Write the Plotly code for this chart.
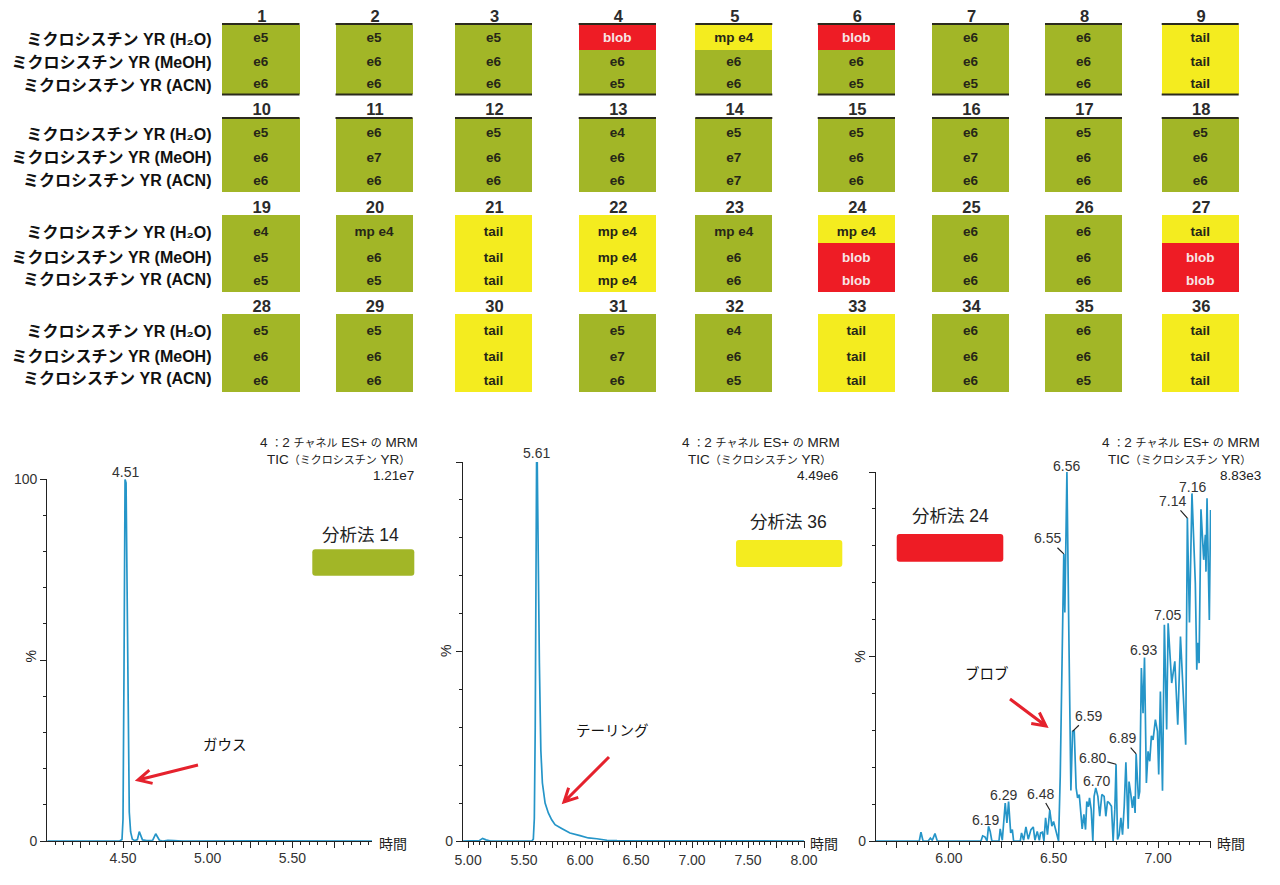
import numpy as np
import plotly.graph_objects as go

W, H = 1280, 885
PAGE_GAP = 8  # the browser keeps this margin around the figure
FONT = "Liberation Sans, Noto Sans CJK JP, sans-serif"
OLIVE, YELLOW, RED = "#A2B627", "#F4EC1F", "#EE1C25"
LINE = "#2595C8"
INK = "#2b2b2b"
BLANK = "\u00a0"

# --- table data ---
row_names = ["ミクロシスチン YR (H₂O)", "ミクロシスチン YR (MeOH)", "ミクロシスチン YR (ACN)"]
method_numbers = [[1, 2, 3, 4, 5, 6, 7, 8, 9],
                  [10, 11, 12, 13, 14, 15, 16, 17, 18],
                  [19, 20, 21, 22, 23, 24, 25, 26, 27],
                  [28, 29, 30, 31, 32, 33, 34, 35, 36]]
cell_labels = [
    ["e5", "e5", "e5", "blob", "mp e4", "blob", "e6", "e6", "tail"],
    ["e6", "e6", "e6", "e6", "e6", "e6", "e6", "e6", "tail"],
    ["e6", "e6", "e6", "e5", "e6", "e5", "e5", "e6", "tail"],
    ["e5", "e6", "e5", "e4", "e5", "e5", "e6", "e5", "e5"],
    ["e6", "e7", "e6", "e6", "e7", "e6", "e7", "e6", "e6"],
    ["e6", "e6", "e6", "e6", "e7", "e6", "e6", "e6", "e6"],
    ["e4", "mp e4", "tail", "mp e4", "mp e4", "mp e4", "e6", "e6", "tail"],
    ["e5", "e6", "tail", "mp e4", "e6", "blob", "e6", "e6", "blob"],
    ["e5", "e5", "tail", "mp e4", "e6", "blob", "e6", "e6", "blob"],
    ["e5", "e5", "tail", "e5", "e4", "tail", "e6", "e6", "tail"],
    ["e6", "e6", "tail", "e7", "e6", "tail", "e6", "e6", "tail"],
    ["e6", "e6", "tail", "e6", "e5", "tail", "e6", "e5", "tail"],
]
# 0 gauss, 1 tail, 2 blob
cell_class = [
    [0, 0, 0, 2, 1, 2, 0, 0, 1],
    [0, 0, 0, 0, 0, 0, 0, 0, 1],
    [0, 0, 0, 0, 0, 0, 0, 0, 1],
    [0, 0, 0, 0, 0, 0, 0, 0, 0],
    [0, 0, 0, 0, 0, 0, 0, 0, 0],
    [0, 0, 0, 0, 0, 0, 0, 0, 0],
    [0, 0, 1, 1, 0, 1, 0, 0, 1],
    [0, 0, 1, 1, 0, 2, 0, 0, 2],
    [0, 0, 1, 1, 0, 2, 0, 0, 2],
    [0, 0, 1, 0, 0, 1, 0, 0, 1],
    [0, 0, 1, 0, 0, 1, 0, 0, 1],
    [0, 0, 1, 0, 0, 1, 0, 0, 1],
]

# --- chromatograms ---
gauss_x = [4.053, 4.480, 4.494, 4.500, 4.506, 4.512, 4.518, 4.524, 4.530, 4.537, 4.545, 4.555, 4.570, 4.585,
           4.596, 4.604, 4.615, 4.640, 4.675, 4.693, 4.702, 4.715, 4.735, 4.765, 4.800, 4.850, 5.300, 5.970]
gauss_y = [0, 0, 0.4, 6, 48, 100, 99, 62, 24, 8, 2.5, 0.5, 0.1, 0.4,
           2.6, 1.8, 0.3, 0.1, 0.2, 2.0, 1.4, 0.2, 0, 0.15, 0.1, 0, 0.05, 0]

tail_x = [4.955, 5.100, 5.130, 5.160, 5.200, 5.570, 5.583, 5.592, 5.600, 5.606, 5.612, 5.618, 5.626, 5.637,
          5.650, 5.664, 5.688, 5.717, 5.747, 5.777, 5.836, 5.910, 6.000, 6.074, 6.150, 6.240, 6.330, 6.700, 8.000]
tail_y = [0, 0.1, 0.7, 0.3, 0, 0, 0.5, 6, 30, 78, 100, 100, 76, 47,
          24, 15.3, 10, 7.4, 5.6, 4.3, 3.3, 2.1, 1.4, 0.8, 0.6, 0.2, 0.1, 0.05, 0]

blob_x = [5.651, 5.858, 5.866, 5.876, 5.901, 5.911, 5.920, 5.933, 5.944, 6.153, 6.161, 6.172, 6.182, 6.189,
          6.197, 6.205, 6.239, 6.245, 6.255, 6.269, 6.277, 6.285, 6.295, 6.303, 6.309, 6.341, 6.347, 6.357,
          6.368, 6.379, 6.392, 6.403, 6.411, 6.422, 6.432, 6.438, 6.447, 6.454, 6.462, 6.471, 6.482, 6.492,
          6.500, 6.511, 6.524, 6.532, 6.541, 6.549, 6.554, 6.564, 6.573, 6.583, 6.591, 6.599, 6.608, 6.615,
          6.623, 6.631, 6.637, 6.645, 6.653, 6.659, 6.667, 6.672, 6.680, 6.688, 6.694, 6.702, 6.712, 6.721,
          6.731, 6.742, 6.750, 6.758, 6.767, 6.777, 6.785, 6.793, 6.799, 6.806, 6.814, 6.822, 6.830, 6.838,
          6.846, 6.857, 6.861, 6.869, 6.877, 6.884, 6.890, 6.895, 6.906, 6.912, 6.920, 6.928, 6.935, 6.944,
          6.952, 6.960, 6.968, 6.976, 6.987, 6.997, 7.003, 7.011, 7.021, 7.030, 7.041, 7.048, 7.056, 7.065,
          7.080, 7.094, 7.107, 7.119, 7.132, 7.140, 7.150, 7.162, 7.178, 7.185, 7.189, 7.196, 7.205, 7.218,
          7.226, 7.229, 7.234, 7.245, 7.251]
blob_y = [0, 0, 2.4, 0, 0, 0.8, 0.2, 2.0, 0, 0, 1.4, 1.1, 0, 4.0,
          2.6, 0, 0, 3.3, 0.2, 10.3, 4.9, 10.7, 2.2, 3.1, 0, 0, 2.2, 0.2,
          3.8, 0.5, 3.1, 3.8, 0.2, 2.6, 0.2, 2.2, 2.4, 0, 6.3, 1.7, 8.4, 4.0,
          5.3, 2.6, 0, 17.5, 48.2, 77.8, 61.9, 100, 57.2, 13.7, 29.7, 29.8, 14.4, 11.7,
          12.6, 8.1, 3.3, 7.2, 3.1, 10.7, 9.3, 11.7, 8.6, 0, 12.1, 14.4, 12.1, 6.7,
          12.6, 12.1, 6.7, 10.7, 10.3, 9.4, 0, 8.5, 20.8, 0.4, 1.7, 6.3, 1.7, 9.4,
          21.3, 3.3, 16.1, 13.0, 9.0, 12.1, 7.6, 23.6, 11.4, 13.4, 46.9, 34.6, 49.7, 15.7,
          24.3, 21.6, 28.5, 27.4, 32.9, 29.7, 18.0, 40.5, 13.6, 58.6, 30.2, 59.0, 50.0, 42.8,
          48.7, 31.5, 55.4, 42.8, 26.1, 87.5, 59.2, 94.2, 69.9, 46.4, 53.7, 48.2, 89.9, 76.2,
          83.0, 73.0, 92.9, 59.9, 89.7]

# --- page geometry (pixels) ---
col_spans = [(222, 299.5), (335.5, 412.5), (455, 532), (578.7, 656), (695.3, 772.3),
             (817.7, 895), (932, 1009), (1045, 1122), (1161.7, 1238.7)]
row_spans = [(25, 50), (50, 72), (72, 94), (118, 143), (143, 167), (167, 192),
             (215, 243), (243, 267), (267, 292), (314, 341), (341, 366), (366, 392)]
text_rows = [39, 63, 85, 134, 159, 182, 233, 259, 282, 332, 358, 382]
label_rows = [41, 64, 87, 136, 159, 182, 234, 259, 281, 333, 358, 380]
number_rows = [18, 111, 209, 308]
rule_rows = [24, 94.5, 118]

fig = go.Figure()


def paper_x(px):
    return (px - PAGE_GAP) / (W - PAGE_GAP)


def paper_y(px):
    return 1 - (px - PAGE_GAP) / (H - PAGE_GAP)


# table: one heatmap with non uniform bricks, NaN in the gaps
x_edges = [v for span in col_spans for v in span]
y_edges = []
z = []
for r, (y0, y1) in enumerate(row_spans):
    if not y_edges or y_edges[-1] != y0:
        if y_edges:
            z.append([np.nan] * (len(x_edges) - 1))
        y_edges.append(y0)
    y_edges.append(y1)
    line = []
    for c, k in enumerate(cell_class[r]):
        line.append(k)
        if c < len(cell_class[r]) - 1:
            line.append(np.nan)
    z.append(line)

fig.add_trace(go.Heatmap(
    x=x_edges, y=y_edges, z=z, zmin=0, zmax=2, showscale=False, hoverongaps=False,
    colorscale=[[0, OLIVE], [0.5, YELLOW], [1, RED]],
))

centers = [(a + b) / 2 for a, b in col_spans]
cell_x, cell_y, cell_t, cell_c = [], [], [], []
for r, row in enumerate(cell_labels):
    for c, label in enumerate(row):
        cell_x.append(centers[c])
        cell_y.append(text_rows[r])
        cell_t.append(label)
        cell_c.append("#f7e6e6" if cell_class[r][c] == 2 else "#262618")
fig.add_trace(go.Scatter(
    x=cell_x, y=cell_y, text=cell_t, mode="text", textposition="middle center",
    textfont=dict(family=FONT, size=13.5, color=cell_c, weight="bold"), hoverinfo="skip",
))

num_x, num_y, num_t = [], [], []
for g, numbers in enumerate(method_numbers):
    for c, n in enumerate(numbers):
        num_x.append(centers[c] + 1)
        num_y.append(number_rows[g])
        num_t.append(str(n))
fig.add_trace(go.Scatter(
    x=num_x, y=num_y, text=num_t, mode="text", textposition="middle center",
    textfont=dict(family=FONT, size=16.5, color=INK, weight="bold"), hoverinfo="skip",
))

fig.add_trace(go.Scatter(
    x=[211.5] * len(label_rows), y=label_rows,
    text=[row_names[i % 3] for i in range(len(label_rows))],
    mode="text", textposition="middle left",
    textfont=dict(family=FONT, size=16, color="#111111", weight="bold"), hoverinfo="skip",
))

rule_x, rule_y = [], []
for ry in rule_rows:
    for a, b in col_spans:
        rule_x += [a, b, None]
        rule_y += [ry, ry, None]
fig.add_trace(go.Scatter(x=rule_x, y=rule_y, mode="lines", line=dict(color="#2b2a1c", width=2), hoverinfo="skip"))

# chromatogram panels
panels = [
    dict(x=gauss_x, y=gauss_y, left=47.3, right=372, top=479.3, xr=[4.053, 5.97], standoff=-2,
         ticks=[4.25, 4.5, 4.75, 5.0, 5.25, 5.5, 5.75], text=[BLANK, "4.50", BLANK, "5.00", BLANK, "5.50", BLANK],
         ylabels=["0", BLANK, "100"]),
    dict(x=tail_x, y=tail_y, left=463, right=805, top=462, xr=[4.955, 8.0089], standoff=0,
         ticks=[5.0, 5.25, 5.5, 5.75, 6.0, 6.25, 6.5, 6.75, 7.0, 7.25, 7.5, 7.75, 8.0],
         text=["5.00", BLANK, "5.50", BLANK, "6.00", BLANK, "6.50", BLANK, "7.00", BLANK, "7.50", BLANK, "8.00"],
         ylabels=["0", BLANK, BLANK]),
    dict(x=blob_x, y=blob_y, left=876, right=1211, top=472, xr=[5.651, 7.253], standoff=-2,
         ticks=[5.75, 6.0, 6.25, 6.5, 6.75, 7.0, 7.25], text=[BLANK, "6.00", BLANK, "6.50", BLANK, "7.00", BLANK],
         ylabels=["0", BLANK, BLANK]),
]
BOTTOM = 841
for i, p in enumerate(panels):
    n = i + 2
    fig.add_trace(go.Scatter(x=p["x"], y=p["y"], mode="lines", xaxis=f"x{n}", yaxis=f"y{n}",
                             line=dict(color=LINE, width=1.7), cliponaxis=False))
    axis_font = dict(family=FONT, size=14, color="#333333")
    fig.update_layout({
        f"xaxis{n}": dict(
            domain=[paper_x(p["left"]), paper_x(p["right"])], range=p["xr"], anchor=f"y{n}", automargin=False,
            tickmode="array", tickvals=p["ticks"], ticktext=p["text"], ticks="outside", ticklen=6, tickwidth=1.3,
            tickcolor="#222222", showline=True, linecolor="#222222", linewidth=1.3, showgrid=False, zeroline=False,
            tickfont=axis_font, ticklabelstandoff=p["standoff"],
            minor=dict(tickmode="linear", tick0=0, dtick=0.05, ticks="outside", ticklen=3, tickwidth=1,
                       tickcolor="#222222", showgrid=False),
        ),
        f"yaxis{n}": dict(
            domain=[paper_y(BOTTOM), paper_y(p["top"])], range=[0, 100], anchor=f"x{n}", automargin=False,
            tickmode="array", tickvals=[0, 50, 100], ticktext=p["ylabels"], ticks="outside", ticklen=6, tickwidth=1.3,
            tickcolor="#222222", showline=True, linecolor="#222222", linewidth=1.3, showgrid=False, zeroline=False,
            tickfont=axis_font,
            minor=dict(tickmode="linear", tick0=0, dtick=10, ticks="outside", ticklen=3, tickwidth=1,
                       tickcolor="#222222", showgrid=False),
        ),
    })

annotations = []


def page_text(x, y, text, size=14, anchor="center", color="#222222", angle=0):
    annotations.append(dict(xref="x", yref="y", x=x, y=y, text=text, showarrow=False, xanchor=anchor, yanchor="middle",
                            textangle=angle, font=dict(family=FONT, size=size, color=color)))


def mixed(latin_cjk):
    out = ""
    for part, is_cjk in latin_cjk:
        out += f'<span style="font-size:{11 if is_cjk else 13.5}px">{part}</span>'
    return out


header_1 = mixed([("4 ", 0), ("：", 1), ("2 ", 0), ("チャネル", 1), (" ES+ ", 0), ("の", 1), (" MRM", 0)])
header_2 = mixed([("TIC", 0), ("（ミクロシスチン", 1), (" YR", 0), ("）", 1)])
headers = [
    (420, 412, 416, "1.21e7"),
    (842, 833, 840, "4.49e6"),
    (1262, 1253, 1263, "8.83e3"),
]
for r1, r2, r3, scale in headers:
    page_text(r1, 442, header_1, anchor="right")
    page_text(r2, 459, header_2, anchor="right")
    page_text(r3, 475, scale, size=13.5, anchor="right")

for x, y in [(393, 844), (824, 844), (1231, 844)]:
    page_text(x, y, "時間", size=14)
for x, y in [(30.7, 656.7), (446, 651), (860, 656.7)]:
    page_text(x, y, "%", size=14, angle=-90)

page_text(360.7, 535, "分析法 14", size=17.5)
page_text(788, 521.7, "分析法 36", size=17.5)
page_text(950, 516, "分析法 24", size=17.5)
page_text(225, 745, "ガウス", size=14.5, color="#111111")
page_text(612, 731, "テーリング", size=14.5, color="#111111")
page_text(987, 673, "ブロブ", size=14.5, color="#111111")

# peak labels: text, x, y, offset in pixels, leader line
peaks = [
    ("x2", "y2", "4.51", 4.516, 100, 0, -7, False),
    ("x3", "y3", "5.61", 5.613, 100, 0, -9, False),
    ("x4", "y4", "6.56", 6.564, 100, 0, -6, False),
    ("x4", "y4", "6.55", 6.549, 77.8, -16, -15.7, True),
    ("x4", "y4", "6.59", 6.591, 29.7, 16, -15.7, True),
    ("x4", "y4", "6.19", 6.189, 4.0, -2.7, -6.7, False),
    ("x4", "y4", "6.29", 6.285, 10.7, -4.7, -7, False),
    ("x4", "y4", "6.48", 6.482, 8.4, -9.5, -16.5, True),
    ("x4", "y4", "6.70", 6.702, 14.4, 0.7, -7, False),
    ("x4", "y4", "6.80", 6.799, 20.8, -23.7, -6.3, True),
    ("x4", "y4", "6.89", 6.895, 23.6, -14, -15.7, True),
    ("x4", "y4", "6.93", 6.935, 49.7, -0.7, -7.7, False),
    ("x4", "y4", "7.05", 7.048, 59.0, -1, -8.3, False),
    ("x4", "y4", "7.14", 7.140, 87.5, -15.3, -17.3, True),
    ("x4", "y4", "7.16", 7.162, 94.2, 1, -6, False),
]
for xa, ya, text, x, y, dx, dy, leader in peaks:
    item = dict(xref=xa, yref=ya, x=x, y=y, text=text, xanchor="center", yanchor="middle",
                font=dict(family=FONT, size=14, color="#333333"))
    if leader:
        item.update(showarrow=True, arrowhead=0, arrowwidth=1.2, arrowcolor="#222222", ax=dx, ay=dy, standoff=0)
    else:
        item.update(showarrow=False, xshift=dx, yshift=-dy)
    annotations.append(item)

shapes = []


def rounded_box(x0, y0, x1, y1, color, r=3):
    path = (f"M {x0 + r} {y0} L {x1 - r} {y0} Q {x1} {y0} {x1} {y0 + r} L {x1} {y1 - r} Q {x1} {y1} {x1 - r} {y1} "
            f"L {x0 + r} {y1} Q {x0} {y1} {x0} {y1 - r} L {x0} {y0 + r} Q {x0} {y0} {x0 + r} {y0} Z")
    shapes.append(dict(type="path", xref="x", yref="y", path=path, fillcolor=color, line=dict(width=0)))


def red_arrow(x0, y0, x1, y1, arm=15, spread=np.radians(27)):
    angle = np.arctan2(y0 - y1, x0 - x1)
    ax, ay = x1 + arm * np.cos(angle + spread), y1 + arm * np.sin(angle + spread)
    bx, by = x1 + arm * np.cos(angle - spread), y1 + arm * np.sin(angle - spread)
    path = f"M {x0} {y0} L {x1} {y1} M {ax} {ay} L {x1} {y1} L {bx} {by}"
    shapes.append(dict(type="path", xref="x", yref="y", path=path, line=dict(color="#E5222D", width=3)))


rounded_box(312.3, 549.3, 414.3, 575.7, OLIVE)
rounded_box(736, 540, 842.3, 567, YELLOW)
rounded_box(896.7, 534, 1003.3, 561.7, RED)
red_arrow(198, 765, 138, 780)
red_arrow(609, 757, 564, 802)
red_arrow(1010, 699, 1046, 726)

fig.update_layout(
    width=W - PAGE_GAP, height=H - PAGE_GAP, margin=dict(l=0, r=0, t=0, b=0), showlegend=False,
    paper_bgcolor="white", plot_bgcolor="rgba(0,0,0,0)",
    xaxis=dict(domain=[0, 1], range=[PAGE_GAP, W], visible=False, fixedrange=True, automargin=False),
    yaxis=dict(domain=[0, 1], range=[H, PAGE_GAP], visible=False, fixedrange=True, automargin=False),
    annotations=annotations, shapes=shapes,
)

fig.write_html("out.html")
